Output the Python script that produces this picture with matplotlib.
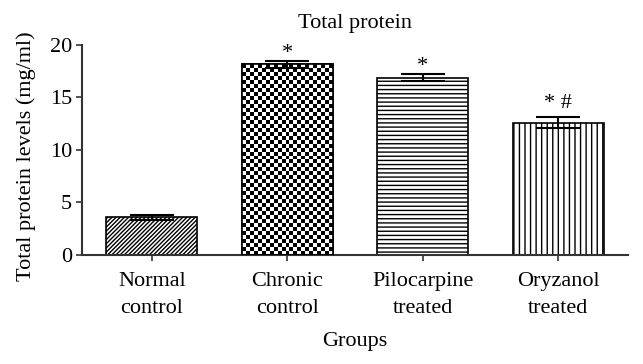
import numpy as np
import matplotlib
matplotlib.use("Agg")
import matplotlib.pyplot as plt

categories = ["Normal\ncontrol", "Chronic\ncontrol", "Pilocarpine\ntreated", "Oryzanol\ntreated"]
values = [3.6, 18.15, 16.9, 12.6]
errors = [0.25, 0.3, 0.3, 0.5]
marks = ["", "*", "*", "* #"]
yticks = [0, 5, 10, 15, 20]

plt.rcParams['font.family'] = ['Liberation Serif', 'DejaVu Serif']
plt.rcParams['hatch.linewidth'] = 1.0
FS = 16

fig = plt.figure(figsize=(6.43, 3.64), dpi=100)
ax = fig.add_axes([0.1275, 0.2995, 0.8493, 0.5769])

x = np.arange(len(categories))
hatches = ["////////", None, "----", "|||"]
bars = ax.bar(x, values, width=0.67, color="white", edgecolor="black",
              linewidth=1.2, zorder=2)
for b, h in zip(bars, hatches):
    if h:
        b.set_hatch(h)

# checkerboard fill for the second bar
b = bars[1]
x0, w, h = b.get_x(), b.get_width(), b.get_height()
ncol = 23
nrow = int(round(h * 10.5 / 4.0))
ii, jj = np.indices((nrow, ncol))
checker = ((ii + jj) % 2).astype(float)
im = ax.imshow(checker, cmap="gray", extent=(x0, x0 + w, 0, h), aspect="auto",
               interpolation="nearest", origin="upper", zorder=2.5, vmin=0, vmax=1)
im.set_clip_path(b)
ax.bar([x[1]], [values[1]], width=0.67, color="none", edgecolor="black",
       linewidth=1.2, zorder=3)

ax.errorbar(x, values, yerr=errors, fmt="none", ecolor="black", elinewidth=1.5,
            capsize=16, capthick=1.5, zorder=4)

for xi, v, e, m in zip(x, values, errors, marks):
    if m:
        dy = 3.0 if "#" in m else -1.0
        ax.annotate(m, (xi, v + e), xytext=(0, dy), textcoords="offset points",
                    ha="center", va="bottom", fontsize=FS)

ax.set_xlim(-0.515, 3.515)
ax.set_ylim(0, 20)
ax.set_yticks(yticks)
ax.set_xticks(x)
ax.set_xticklabels(categories, fontsize=FS, linespacing=1.6)
ax.tick_params(axis="y", labelsize=FS, length=4, width=1.2, color="#333333", pad=3)
ax.tick_params(axis="x", length=4, width=1.2, color="#333333", pad=8)
for s in ["top", "right"]:
    ax.spines[s].set_visible(False)
for s in ["left", "bottom"]:
    ax.spines[s].set_linewidth(1.5)
    ax.spines[s].set_color("#333333")

ax.set_title("Total protein", fontsize=FS, pad=12)
ax.set_ylabel("Total protein levels (mg/ml)", fontsize=FS)
ax.yaxis.set_label_coords(-0.085, 0.47)
ax.set_xlabel("Groups", fontsize=FS, labelpad=10)

fig.savefig("out.png", dpi=100)
